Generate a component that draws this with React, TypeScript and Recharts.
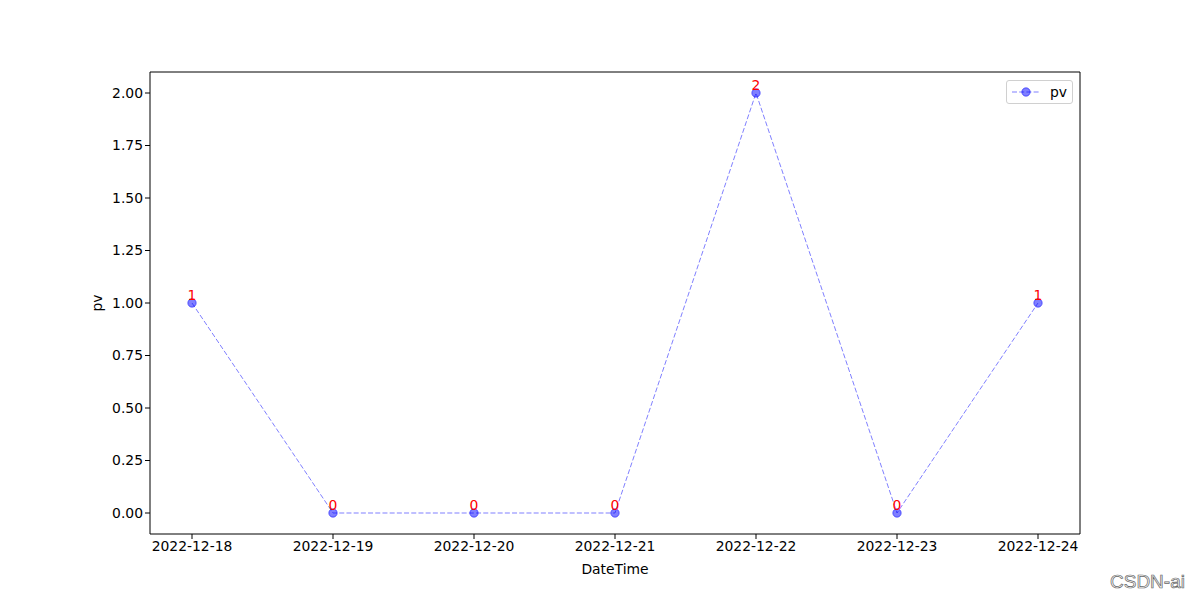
import React from "react";
import { LineChart, Line, XAxis, YAxis, LabelList, Label } from "recharts";

const dates = ["2022-12-18", "2022-12-19", "2022-12-20", "2022-12-21", "2022-12-22", "2022-12-23", "2022-12-24"];
const pv = [1, 0, 0, 0, 2, 0, 1];
const yTicks = [0, 0.25, 0.5, 0.75, 1.0, 1.25, 1.5, 1.75, 2.0];

const data = dates.map((d, i) => ({ date: d, pv: pv[i] }));

const FONT = "'DejaVu Sans', sans-serif";
const tickStyle = { fill: "#000", fontSize: 13.9, fontFamily: FONT };

function LegendBox() {
    return (
        <div
            style={{
                position: "absolute",
                left: 1006,
                top: 80,
                width: 67,
                height: 24,
                border: "1px solid #d0d0d0",
                borderRadius: 3,
                background: "#fff",
                boxSizing: "border-box",
                display: "flex",
                alignItems: "center",
                fontFamily: FONT,
                fontSize: 13.9,
            }}
        >
            <svg width={36} height={20} style={{ marginLeft: 3 }}>
                <line x1={2} y1={10} x2={30} y2={10} stroke="rgba(0,0,255,0.5)" strokeDasharray="5 2.2" />
                <circle cx={16} cy={10} r={4.2} fill="rgba(0,0,255,0.5)" stroke="rgba(0,0,255,0.5)" />
            </svg>
            <span style={{ marginLeft: 4 }}>pv</span>
        </div>
    );
}

function ValueLabel(props: any) {
    const { x, y, value } = props;
    return (
        <text x={x} y={y - 3} textAnchor="middle" fill="red" fontSize={13.9} fontFamily={FONT}>
            {value}
        </text>
    );
}

export default function App() {
    return (
        <div style={{ position: "absolute", left: 0, top: 0, width: 1200, height: 600, background: "#fff" }}>
            <LineChart width={1200} height={600} data={data} margin={{ top: 71, right: 119, left: 90, bottom: 21 }}>
                <XAxis
                    dataKey="date"
                    height={45}
                    padding={{ left: 42, right: 42 }}
                    stroke="#000"
                    tickSize={5}
                    tick={tickStyle}
                    interval={0}
                >
                    <Label value="DateTime" position="insideBottom" offset={5} fill="#000" fontSize={13.9} fontFamily={FONT} />
                </XAxis>
                <XAxis xAxisId="top" dataKey="date" orientation="top" height={1} tick={false} tickLine={false} stroke="#000" />
                <YAxis
                    type="number"
                    domain={[-0.1, 2.1]}
                    ticks={yTicks}
                    width={60}
                    stroke="#000"
                    tickSize={5}
                    tick={tickStyle}
                    tickFormatter={(v: number) => v.toFixed(2)}
                >
                    <Label value="pv" angle={-90} position="center" dx={-23} fill="#000" fontSize={13.9} fontFamily={FONT} />
                </YAxis>
                <YAxis yAxisId="right" orientation="right" width={1} domain={[-0.1, 2.1]} tick={false} tickLine={false} stroke="#000" />
                <Line
                    type="linear"
                    dataKey="pv"
                    stroke="rgba(0,0,255,0.5)"
                    strokeWidth={1}
                    strokeDasharray="5 2.2"
                    dot={{ r: 4.2, fill: "rgba(0,0,255,0.5)", stroke: "rgba(0,0,255,0.5)", strokeWidth: 1, strokeDasharray: "" }}
                    activeDot={false}
                    isAnimationActive={false}
                >
                    <LabelList dataKey="pv" content={ValueLabel} />
                </Line>
            </LineChart>
            <LegendBox />
            <div
                style={{
                    position: "absolute",
                    left: 1110,
                    top: 571,
                    fontFamily: "'Liberation Sans', Arial, sans-serif",
                    fontSize: 19,
                    color: "#fafafa",
                    WebkitTextStroke: "0.7px #666",
                }}
            >
                CSDN-ai
            </div>
        </div>
    );
}
